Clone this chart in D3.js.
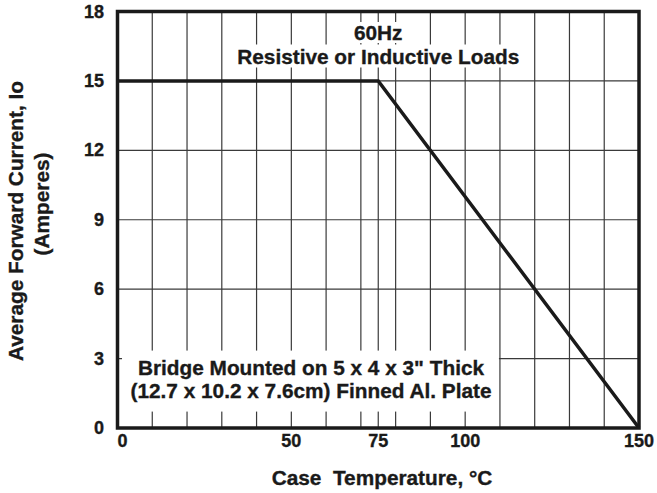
<!DOCTYPE html>
<html>
<head>
<meta charset="utf-8">
<script src="https://cdn.jsdelivr.net/npm/d3@7"></script>
<style>
  body { margin: 0; background: #fff; }
  svg { display: block; font-family: "Liberation Sans", Arial, sans-serif; font-weight: bold; }
  text { white-space: pre; stroke: #1a1a1a; stroke-width: 0.35px; }
</style>
</head>
<body>
<svg></svg>
<script>
// derating curve: flat at 15A up to 75C, then linear down to 0 at 150C
const caseTemp = [0, 75, 150];
const fwdCurrent = [15, 15, 0];

const xTickValues = [0, 50, 75, 100, 150];
const yTickValues = [0, 3, 6, 9, 12, 15, 18];
const xGridValues = [10, 20, 30, 40, 50, 60, 70, 75, 80, 90, 100, 110, 120, 130, 140];
const yGridValues = [3, 6, 9, 12, 15];

const topNote = ["60Hz", "Resistive or Inductive Loads"];
const bottomNote = ["Bridge Mounted on 5 x 4 x 3\" Thick", "(12.7 x 10.2 x 7.6cm) Finned Al. Plate"];
const xTitle = "Case  Temperature, \u00B0C";
const yTitle = ["Average Forward Current, Io", "(Amperes)"];

let width = 657;
let height = 493;
let svg = d3.select("svg")
            .attr("width", width)
            .attr("height", height);

let margin = {left: 117.5, right: 18, top: 11.5, bottom: 65};
let noteSize = 20.8;
let tickSize = 18;
let ink = "#1a1a1a";

let x = d3.scaleLinear()
          .domain([0, 150])
          .range([margin.left, width - margin.right]);
let y = d3.scaleLinear()
          .domain([0, 18])
          .range([height - margin.bottom, margin.top]);

// grid
let grid = svg.append("g").attr("class", "grid");
grid.selectAll("line.v")
    .data(xGridValues)
    .enter()
    .append("line")
    .attr("x1", d => x(d))
    .attr("x2", d => x(d))
    .attr("y1", y(18))
    .attr("y2", y(0))
    .attr("stroke", "#3a3a3a")
    .attr("stroke-width", 1.2);
grid.selectAll("line.h")
    .data(yGridValues)
    .enter()
    .append("line")
    .attr("x1", x(0))
    .attr("x2", x(150))
    .attr("y1", d => y(d))
    .attr("y2", d => y(d))
    .attr("stroke", "#3a3a3a")
    .attr("stroke-width", 1.2);

function label(parent, tx, ty, str, size, anchor) {
    return parent.append("text")
                 .attr("x", tx)
                 .attr("y", ty)
                 .attr("text-anchor", anchor || "middle")
                 .attr("font-size", size)
                 .attr("fill", ink)
                 .text(str);
}

function boxedLabel(parent, tx, ty, str, size, pad) {
    let g = parent.append("g");
    let t = label(g, tx, ty, str, size);
    let bb = t.node().getBBox();
    g.insert("rect", "text")
     .attr("x", bb.x - pad[0])
     .attr("y", bb.y - pad[1])
     .attr("width", bb.width + 2 * pad[0])
     .attr("height", bb.height + 2 * pad[1])
     .attr("fill", "#fff");
    return g;
}

// notes
let cx = x(75);
boxedLabel(svg, cx, 40, topNote[0], noteSize, [3, -1]);
boxedLabel(svg, cx, 63.5, topNote[1], noteSize, [3, 0]);

let notes = svg.append("g");
notes.append("rect")
     .attr("x", x(1.3))
     .attr("y", y(3) - 8)
     .attr("width", x(110) - x(1.3) - 1)
     .attr("height", 61)
     .attr("fill", "#fff");
label(notes, 311, 375, bottomNote[0], noteSize);
label(notes, 311, 398, bottomNote[1], noteSize);

// derating curve
let line = d3.line()
             .x(d => x(d[0]))
             .y(d => y(d[1]));
svg.append("path")
   .datum(d3.zip(caseTemp, fwdCurrent))
   .attr("d", line)
   .attr("fill", "none")
   .attr("stroke", ink)
   .attr("stroke-width", 3.5);

// frame
svg.append("rect")
   .attr("x", x(0))
   .attr("y", y(18))
   .attr("width", x(150) - x(0))
   .attr("height", y(0) - y(18))
   .attr("fill", "none")
   .attr("stroke", ink)
   .attr("stroke-width", 3.5);

// tick labels
let xLab = svg.append("g");
xTickValues.forEach(d => {
    label(xLab, x(d), 447, d, tickSize, d === 0 ? "start" : "middle");
});
let yLab = svg.append("g");
yTickValues.forEach(d => {
    label(yLab, 104, y(d) + 6, d, tickSize, "end");
});

// axis titles
label(svg, 382, 485, xTitle, noteSize);

svg.append("text")
   .attr("transform", "translate(23,221) rotate(-90)")
   .attr("text-anchor", "middle")
   .attr("font-size", noteSize)
   .attr("fill", ink)
   .text(yTitle[0]);
svg.append("text")
   .attr("transform", "translate(49,204) rotate(-90)")
   .attr("text-anchor", "middle")
   .attr("font-size", noteSize)
   .attr("fill", ink)
   .text(yTitle[1]);
</script>
</body>
</html>
